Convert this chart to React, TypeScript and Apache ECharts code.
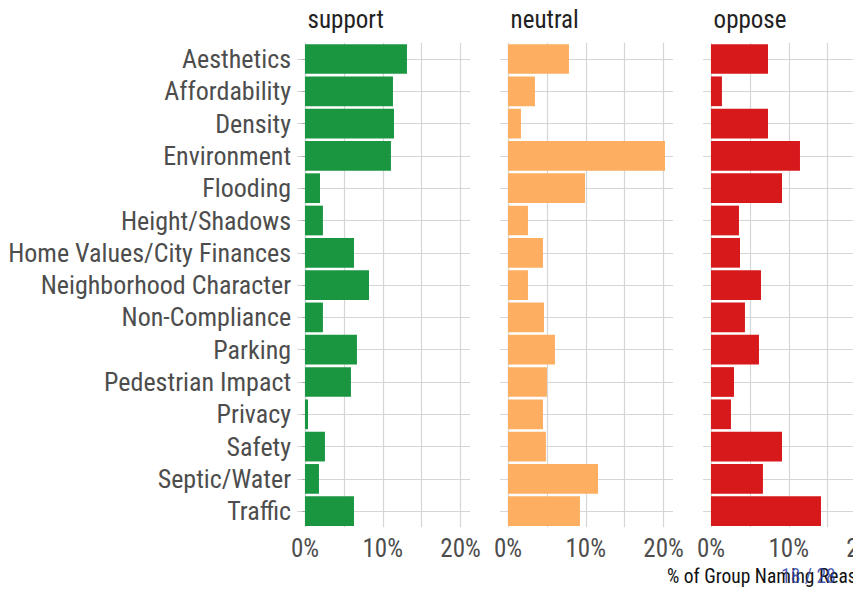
import React, { useEffect, useRef } from "react";
import * as echarts from "echarts";

const categories = [
  "Aesthetics",
  "Affordability",
  "Density",
  "Environment",
  "Flooding",
  "Height/Shadows",
  "Home Values/City Finances",
  "Neighborhood Character",
  "Non-Compliance",
  "Parking",
  "Pedestrian Impact",
  "Privacy",
  "Safety",
  "Septic/Water",
  "Traffic",
];

const facets = ["support", "neutral", "oppose"];

const supportValues = [13.11, 11.31, 11.44, 11.05, 1.93, 2.31, 6.3, 8.23, 2.31, 6.68, 5.91, 0.39, 2.57, 1.8, 6.3];
const neutralValues = [7.84, 3.47, 1.67, 20.18, 9.9, 2.57, 4.5, 2.57, 4.63, 6.04, 5.01, 4.5, 4.88, 11.57, 9.25];
const opposeValues = [7.33, 1.41, 7.33, 11.44, 9.13, 3.6, 3.73, 6.43, 4.37, 6.17, 2.96, 2.57, 9.13, 6.68, 14.14];

const gridTicks = [0, 5, 10, 15, 20];
const labelTicks = [0, 10, 20];

const xTitle = "% of Group Naming Reason";
const pageLabel = "18 / 28";

const FONT = "'Roboto Condensed', 'Liberation Sans Narrow', 'DejaVu Sans Condensed', sans-serif";
const colors = ["#1a9641", "#fdae61", "#d7191c"];

export default function App() {
  const ref = useRef<HTMLDivElement>(null);
  useEffect(() => {
    if (!ref.current) return;
    const chart = echarts.init(ref.current, undefined, { renderer: "svg" });
    const seriesValues = [supportValues, neutralValues, opposeValues];
    const lefts = [297.1, 500.1, 703.1];
    const width = 172.9;
    const top = 42.85;
    const height = 484.5;
    const xMin = -1.01;
    const xMax = 21.21;

    const grids = lefts.map((l) => ({ left: l, top, width, height, containLabel: false }));
    const xAxes = lefts.map((_, i) => ({
      type: "value" as const,
      gridIndex: i,
      min: xMin,
      max: xMax,
      axisLine: { show: false },
      axisTick: { show: false, customValues: gridTicks },
      axisLabel: {
        customValues: labelTicks,
        formatter: (v: number) => `${v}%`,
        color: "#4d4d4d",
        fontFamily: FONT,
        fontSize: 25,
        margin: 9,
      },
      splitLine: { show: true, lineStyle: { color: "#d6d6d6", width: 1.2 } },
    }));
    const yAxes = lefts.map((_, i) => ({
      type: "category" as const,
      gridIndex: i,
      data: categories,
      inverse: true,
      axisLine: { show: false },
      axisTick: { show: i === 0, alignWithLabel: true, length: 3, lineStyle: { color: "#aaaaaa" } },
      axisLabel: {
        show: i === 0,
        color: "#4d4d4d",
        fontFamily: FONT,
        fontSize: 26,
        margin: 6,
        interval: 0,
      },
      splitLine: { show: true, alignWithLabel: true, lineStyle: { color: "#d6d6d6", width: 1.2 } },
    }));
    const series = seriesValues.map((vals, i) => ({
      type: "bar" as const,
      name: facets[i],
      xAxisIndex: i,
      yAxisIndex: i,
      data: vals,
      barCategoryGap: "8%",
      itemStyle: { color: colors[i] },
      silent: true,
    }));

    const graphics: any[] = facets.map((f, i) => ({
      type: "text",
      style: {
        x: lefts[i] + 10.5,
        y: 19,
        text: f,
        font: `25px ${FONT}`,
        fill: "#222222",
        textVerticalAlign: "middle",
      },
    }));
    graphics.push({
      type: "text",
      style: {
        x: 667,
        y: 576,
        text: xTitle,
        font: `19.5px ${FONT}`,
        fill: "#111111",
        textVerticalAlign: "middle",
      },
    });
    graphics.push({
      type: "text",
      style: {
        x: 781,
        y: 576,
        text: pageLabel,
        font: `19.5px ${FONT}`,
        fill: "rgba(50,70,170,0.85)",
        textVerticalAlign: "middle",
      },
    });

    chart.setOption({
      animation: false,
      backgroundColor: "#ffffff",
      grid: grids,
      xAxis: xAxes,
      yAxis: yAxes,
      series,
      graphic: graphics,
    });
    return () => chart.dispose();
  }, []);
  return (
    <div style={{ position: "fixed", left: 0, top: 0, width: 853, height: 589, overflow: "hidden" }}>
      <div ref={ref} style={{ width: 900, height: 589 }} />
    </div>
  );
}
